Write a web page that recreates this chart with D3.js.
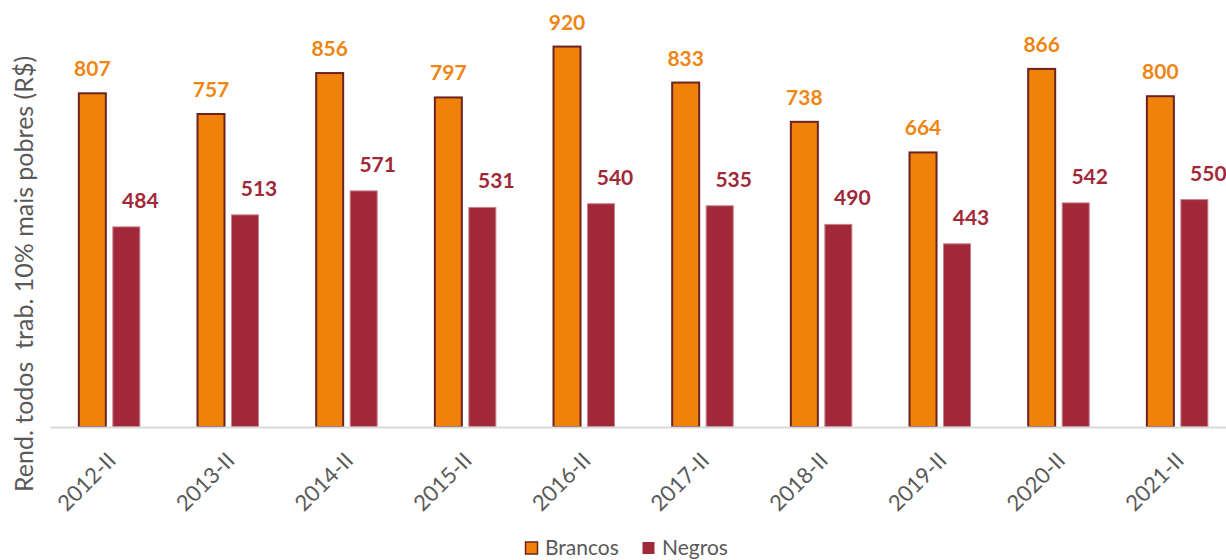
<!DOCTYPE html>
<html>
<head>
<meta charset="utf-8">
<script src="https://cdn.jsdelivr.net/npm/d3@7"></script>
<style>
  html, body { margin: 0; padding: 0; background: #ffffff; }
  svg { display: block; }
  text { font-family: Lato, "Open Sans", sans-serif; }
</style>
</head>
<body>
<svg id="chart" width="1226" height="560"></svg>
<script>
// Rendimento médio dos 10% mais pobres, por cor/raça (2º trimestre de cada ano)
const periods = ["2012-II", "2013-II", "2014-II", "2015-II", "2016-II",
                 "2017-II", "2018-II", "2019-II", "2020-II", "2021-II"];
const series = ["Brancos", "Negros"];
const brancos = [807, 757, 856, 797, 920, 833, 738, 664, 866, 800];
const negros  = [484, 513, 571, 531, 540, 535, 490, 443, 542, 550];
const yTitle = "Rend. todos  trab. 10% mais pobres (R$)";

const colors = { Brancos: "#F0820A", Negros: "#A02838" };
const strokes = { Brancos: "#6B2222", Negros: "#C9818C" };
const labelColors = { Brancos: "#EF8512", Negros: "#A02838" };
const values = { Brancos: brancos, Negros: negros };

const svg = d3.select("#chart");
const baseY = 427;

const x = d3.scaleBand().domain(periods).range([50, 1236.7]).padding(0);
const xs = d3.scaleBand().domain(series).range([0, x.bandwidth()])
  .paddingInner(0.206).paddingOuter(0.848);
const y = d3.scaleLinear().domain([0, 1000]).range([baseY, 13.5]);

// bars
const groups = svg.append("g").selectAll("g")
  .data(periods)
  .join("g")
  .attr("transform", d => `translate(${x(d)},0)`);

series.forEach(s => {
  groups.append("rect")
    .attr("x", d => xs(s))
    .attr("y", (d, i) => y(values[s][i]))
    .attr("width", xs.bandwidth())
    .attr("height", (d, i) => y(0) - y(values[s][i]))
    .attr("fill", colors[s])
    .attr("stroke", strokes[s])
    .attr("stroke-width", s === "Brancos" ? 2 : 1);
});

// x axis
const xAxis = svg.append("g")
  .attr("transform", `translate(0,${baseY})`)
  .call(d3.axisBottom(x).tickSize(0).tickSizeOuter(0));
xAxis.select(".domain").attr("stroke", "#D9D9D9").attr("stroke-width", 2);
xAxis.selectAll(".tick text")
  .attr("x", 0).attr("y", 0).attr("dy", 0)
  .attr("text-anchor", "end")
  .attr("transform", "translate(8,35) rotate(-45)")
  .attr("fill", "#595959")
  .style("font-size", "22px")
  .style("font-family", "Lato, sans-serif");

// value labels
series.forEach(s => {
  const gap = s === "Brancos" ? 17 : 19;
  const shift = s === "Brancos" ? 0 : 14;
  groups.append("text")
    .attr("x", d => xs(s) + xs.bandwidth() / 2 + shift)
    .attr("y", (d, i) => y(values[s][i]) - gap)
    .attr("text-anchor", "middle")
    .attr("fill", labelColors[s])
    .style("font-size", "21px")
    .style("font-weight", 700)
    .text((d, i) => values[s][i]);
});

// y axis title
svg.append("text")
  .attr("transform", `translate(33,274) rotate(-90)`)
  .attr("text-anchor", "middle")
  .attr("fill", "#595959")
  .style("font-size", "25px")
  .style("white-space", "pre")
  .text(yTitle);

// legend
const legend = svg.append("g").attr("transform", "translate(525,541)");
const legendX = [0, 117];
series.forEach((s, i) => {
  const g = legend.append("g").attr("transform", `translate(${legendX[i]},0)`);
  g.append("rect")
    .attr("x", 0.5).attr("y", 1).attr("width", 12).attr("height", 12)
    .attr("fill", colors[s])
    .attr("stroke", s === "Brancos" ? strokes[s] : "none")
    .attr("stroke-width", 1.5);
  g.append("text")
    .attr("x", 20).attr("y", 13.5)
    .attr("fill", "#595959")
    .style("font-size", "21px")
    .text(s);
});
</script>
</body>
</html>
